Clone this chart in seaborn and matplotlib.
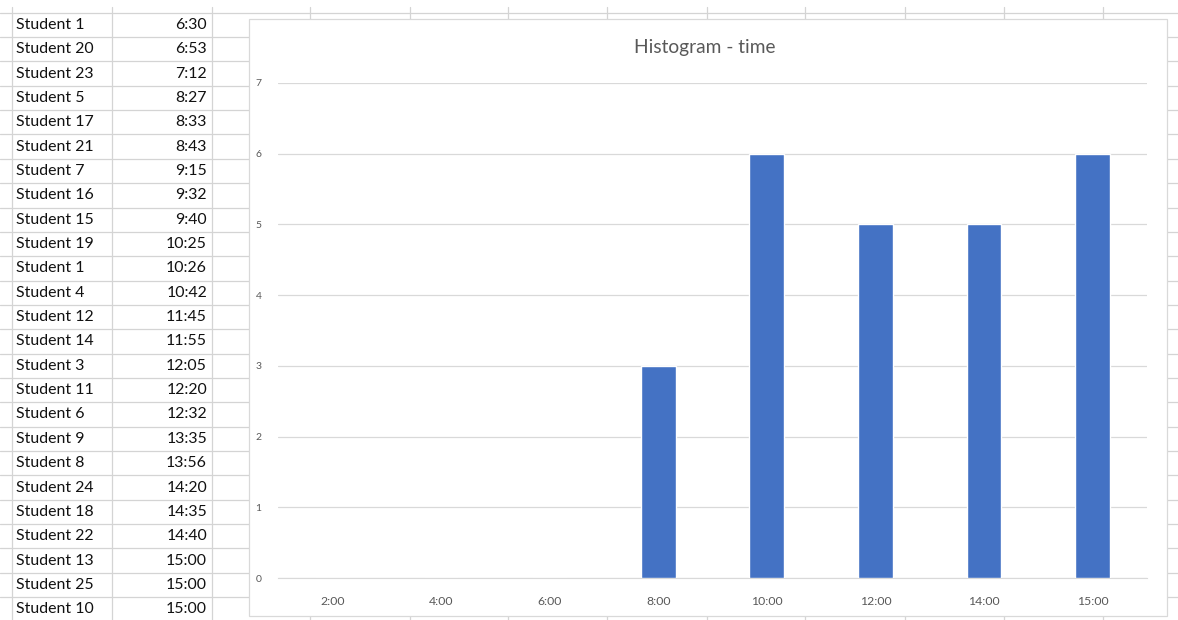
import matplotlib
matplotlib.use("Agg")
import matplotlib.pyplot as plt
import seaborn as sns
from matplotlib.patches import Rectangle

# ----------------------
# Data
# ----------------------
students = ["Student 1", "Student 20", "Student 23", "Student 5", "Student 17",
            "Student 21", "Student 7", "Student 16", "Student 15", "Student 19",
            "Student 1", "Student 4", "Student 12", "Student 14", "Student 3",
            "Student 11", "Student 6", "Student 9", "Student 8", "Student 24",
            "Student 18", "Student 22", "Student 13", "Student 25", "Student 10"]
times = ["6:30", "6:53", "7:12", "8:27", "8:33", "8:43", "9:15", "9:32", "9:40",
         "10:25", "10:26", "10:42", "11:45", "11:55", "12:05", "12:20", "12:32",
         "13:35", "13:56", "14:20", "14:35", "14:40", "15:00", "15:00", "15:00"]

bins = ["2:00", "4:00", "6:00", "8:00", "10:00", "12:00", "14:00", "15:00"]
counts = [0, 0, 0, 3, 6, 5, 5, 6]

W, H = 1178, 620
GRID = "#d4d4d4"
TEXT = "#595959"
BAR = "#4472c4"

sns.set_style("white")
plt.rcParams['font.family'] = ['Lato', 'DejaVu Sans']

fig = plt.figure(figsize=(W / 100, H / 100), dpi=100)

# spreadsheet background, pixel coordinates
bg = fig.add_axes([0, 0, 1, 1])
bg.set_xlim(0, W)
bg.set_ylim(H, 0)
bg.axis("off")

row_top = 12.7
row_h = 24.35
for k in range(len(students) + 1):
    bg.plot([0, W], [row_top + k * row_h] * 2, color=GRID, lw=0.9, zorder=1)
for x in [12, 112, 212, 310, 410, 508, 607, 707, 805, 905, 1004, 1103]:
    bg.plot([x, x], [7, H], color=GRID, lw=0.9, zorder=1)

for i, (name, t) in enumerate(zip(students, times)):
    yc = row_top + (i + 0.5) * row_h
    bg.text(16, yc, name, fontsize=11.4, color="#111111", va="center", ha="left")
    bg.text(207, yc, t, fontsize=11.4, color="#111111", va="center", ha="right")

# chart area
bg.add_patch(Rectangle((249, 19), 1167 - 249, 616 - 19, facecolor="white",
                       edgecolor="#d9d9d9", lw=0.9, zorder=2))
bg.text(705, 48, "Histogram - time", fontsize=13.8, color=TEXT,
        ha="center", va="center", zorder=3)

# plot area
ax = fig.add_axes([278 / W, (H - 578) / H, (1147 - 278) / W, (578 - 83) / H])
ax.set_facecolor("none")
sns.barplot(x=bins, y=counts, color=BAR, saturation=1, width=0.32, ax=ax, zorder=3)
ax.set_ylim(0, 7)
ax.set_yticks(range(0, 8))
ax.yaxis.grid(True, color="#d9d9d9", lw=0.9, zorder=0)
ax.set_axisbelow(True)
for s in ["top", "right", "left"]:
    ax.spines[s].set_visible(False)
ax.spines["bottom"].set_color("#d9d9d9")
ax.tick_params(axis="both", length=0, labelcolor=TEXT)
ax.tick_params(axis="y", labelsize=7.5, pad=12)
ax.tick_params(axis="x", labelsize=8.8, pad=13)
ax.set_xlabel("")
ax.set_ylabel("")

fig.savefig("out.png", dpi=100)
